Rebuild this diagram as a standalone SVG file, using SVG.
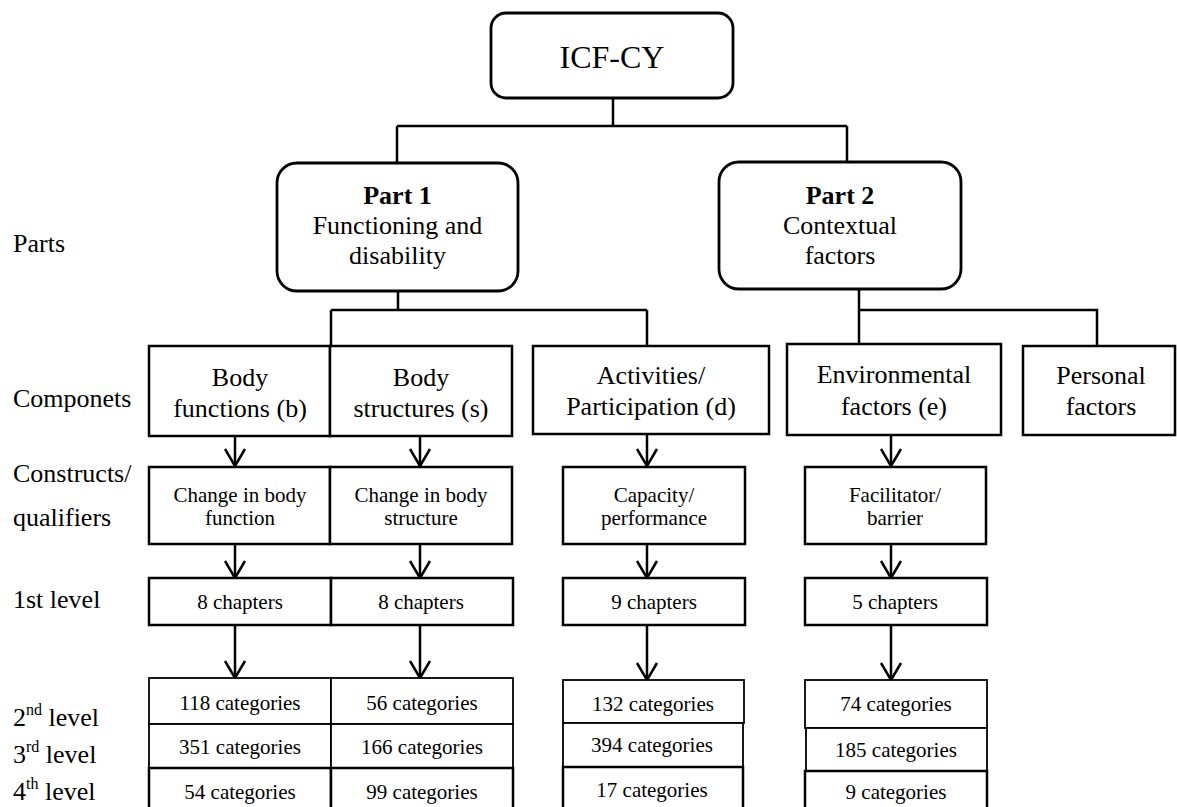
<svg xmlns="http://www.w3.org/2000/svg" width="1177" height="807" viewBox="0 0 1177 807">
<style>
  text{font-family:"Liberation Serif","Times New Roman",serif;fill:#000;text-anchor:middle}
  .big{font-size:32px}
  .lbl{font-size:26px}
  .sm{font-size:21px}
  .side{font-size:26px;text-anchor:start}
  .rbox{fill:#fff;stroke:#000;stroke-width:2.8}
  .box{fill:#fff;stroke:#000;stroke-width:2.5}
  .cell{fill:#fff;stroke:#000;stroke-width:1.8}
  .con{fill:none;stroke:#000;stroke-width:2.5}
  .arr{fill:none;stroke:#000;stroke-width:2.5;marker-end:url(#ah)}
</style>
<defs>
  <marker id="ah" markerUnits="userSpaceOnUse" viewBox="0 0 22 24" markerWidth="22" markerHeight="24" refX="19" refY="12" orient="auto" overflow="visible">
    <path d="M2,2 L19,12 L2,22" fill="none" stroke="#000" stroke-width="2.5"/>
  </marker>
</defs>

<g id="side-labels">
  <text class="side" x="13" y="252">Parts</text>
  <text class="side" x="13" y="407">Componets</text>
  <text class="side" x="13" y="482">Constructs/</text>
  <text class="side" x="13" y="526">qualifiers</text>
  <text class="side" x="13" y="608">1st level</text>
  <text class="side" x="13" y="726">2<tspan font-size="16" dy="-11">nd</tspan><tspan dy="11"> level</tspan></text>
  <text class="side" x="13" y="763">3<tspan font-size="16" dy="-11">rd</tspan><tspan dy="11"> level</tspan></text>
  <text class="side" x="13" y="800">4<tspan font-size="16" dy="-11">th</tspan><tspan dy="11"> level</tspan></text>
</g>

<g id="connectors">
  <path class="con" d="M613,98 V126 M397,126 H847 M397,126 V163 M847,126 V162"/>
  <path class="con" d="M398,291 V310 M331,310 H647 M331,310 V346 M647,310 V346"/>
  <path class="con" d="M859,289 V310 H1097 V346 M859,310 V344"/>
  <path class="arr" d="M235,436 V466"/>
  <path class="arr" d="M420,436 V466"/>
  <path class="arr" d="M647,434 V466"/>
  <path class="arr" d="M891,435 V466"/>
  <path class="arr" d="M235,544 V578"/>
  <path class="arr" d="M420,544 V578"/>
  <path class="arr" d="M647,544 V578"/>
  <path class="arr" d="M891,544 V578"/>
  <path class="arr" d="M235,625 V678"/>
  <path class="arr" d="M420,625 V678"/>
  <path class="arr" d="M647,625 V680"/>
  <path class="arr" d="M891,625 V680"/>
</g>

<g id="icf-cy">
  <rect class="rbox" x="491" y="13" width="242" height="85" rx="15"/>
  <text class="big" x="612" y="68">ICF-CY</text>
</g>

<g id="part1">
  <rect class="rbox" x="277" y="163" width="241" height="128" rx="20"/>
  <text class="lbl" x="397.5" y="204" font-weight="bold">Part 1</text>
  <text class="lbl" x="397.5" y="234">Functioning and</text>
  <text class="lbl" x="397.5" y="264">disability</text>
</g>

<g id="part2">
  <rect class="rbox" x="719" y="162" width="242" height="127" rx="20"/>
  <text class="lbl" x="840" y="204" font-weight="bold">Part 2</text>
  <text class="lbl" x="840" y="234">Contextual</text>
  <text class="lbl" x="840" y="264">factors</text>
</g>

<g id="body-functions">
  <rect class="box" x="149" y="346" width="181" height="90"/>
  <text class="lbl" x="240" y="386">Body</text>
  <text class="lbl" x="240" y="417">functions (b)</text>
</g>
<g id="body-structures">
  <rect class="box" x="330" y="346" width="182" height="90"/>
  <text class="lbl" x="421" y="386">Body</text>
  <text class="lbl" x="421" y="417">structures (s)</text>
</g>
<g id="activities">
  <rect class="box" x="533" y="346" width="236" height="88"/>
  <text class="lbl" x="651" y="384">Activities/</text>
  <text class="lbl" x="651" y="415">Participation (d)</text>
</g>
<g id="environmental">
  <rect class="box" x="787" y="344" width="214" height="91"/>
  <text class="lbl" x="894" y="383">Environmental</text>
  <text class="lbl" x="894" y="415">factors (e)</text>
</g>
<g id="personal">
  <rect class="box" x="1023" y="346" width="152" height="89"/>
  <text class="lbl" x="1101" y="384">Personal</text>
  <text class="lbl" x="1101" y="415">factors</text>
</g>

<g id="change-body-function">
  <rect class="box" x="149" y="467" width="181" height="77"/>
  <text class="sm" x="240" y="502">Change in body</text>
  <text class="sm" x="240" y="525">function</text>
</g>
<g id="change-body-structure">
  <rect class="box" x="330" y="467" width="182" height="77"/>
  <text class="sm" x="421" y="502">Change in body</text>
  <text class="sm" x="421" y="525">structure</text>
</g>
<g id="capacity">
  <rect class="box" x="563" y="467" width="182" height="77"/>
  <text class="sm" x="654" y="502">Capacity/</text>
  <text class="sm" x="654" y="525">performance</text>
</g>
<g id="facilitator">
  <rect class="box" x="805" y="467" width="181" height="77"/>
  <text class="sm" x="895" y="502">Facilitator/</text>
  <text class="sm" x="895" y="525">barrier</text>
</g>

<g id="chapters-b">
  <rect class="box" x="149" y="578" width="182" height="47"/>
  <text class="sm" x="240" y="609">8 chapters</text>
</g>
<g id="chapters-s">
  <rect class="box" x="331" y="578" width="182" height="47"/>
  <text class="sm" x="421" y="609">8 chapters</text>
</g>
<g id="chapters-d">
  <rect class="box" x="563" y="578" width="182" height="47"/>
  <text class="sm" x="654" y="609">9 chapters</text>
</g>
<g id="chapters-e">
  <rect class="box" x="805" y="578" width="182" height="47"/>
  <text class="sm" x="895" y="609">5 chapters</text>
</g>

<g id="categories-b">
  <rect class="cell" x="149" y="678" width="182" height="46"/>
  <rect class="cell" x="149" y="724" width="182" height="44"/>
  <rect class="box" x="149" y="768" width="182" height="50"/>
  <text class="sm" x="240" y="710">118 categories</text>
  <text class="sm" x="240" y="754">351 categories</text>
  <text class="sm" x="240" y="799">54 categories</text>
</g>
<g id="categories-s">
  <rect class="cell" x="331" y="678" width="182" height="46"/>
  <rect class="cell" x="331" y="724" width="182" height="44"/>
  <rect class="box" x="331" y="768" width="182" height="50"/>
  <text class="sm" x="422" y="710">56 categories</text>
  <text class="sm" x="422" y="754">166 categories</text>
  <text class="sm" x="422" y="799">99 categories</text>
</g>
<g id="categories-d">
  <rect class="cell" x="563" y="680" width="181" height="43"/>
  <rect class="cell" x="563" y="723" width="180" height="44"/>
  <rect class="box" x="563" y="767" width="180" height="50"/>
  <text class="sm" x="653" y="711">132 categories</text>
  <text class="sm" x="652" y="752">394 categories</text>
  <text class="sm" x="652" y="797">17 categories</text>
</g>
<g id="categories-e">
  <rect class="cell" x="805" y="680" width="182" height="48"/>
  <rect class="cell" x="806" y="728" width="181" height="43"/>
  <rect class="box" x="805" y="771" width="182" height="50"/>
  <text class="sm" x="896" y="711">74 categories</text>
  <text class="sm" x="896" y="757">185 categories</text>
  <text class="sm" x="896" y="799">9 categories</text>
</g>
</svg>
